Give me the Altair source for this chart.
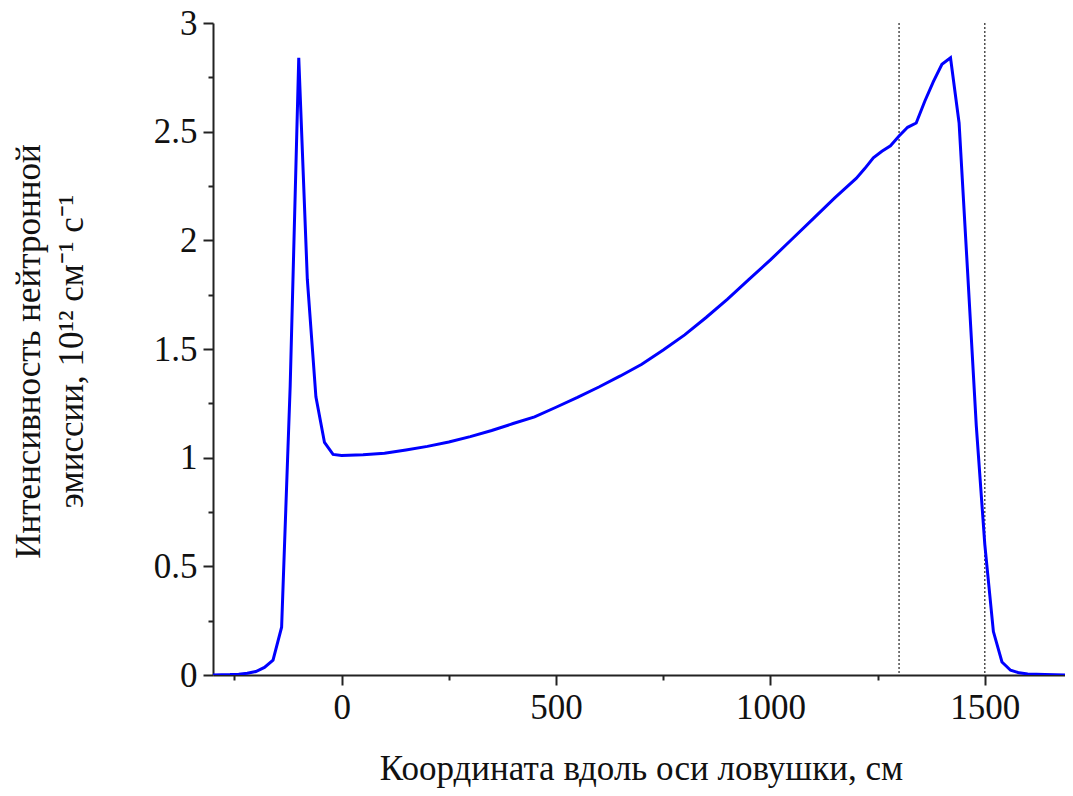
import altair as alt
import pandas as pd

# Coordinate along the trap axis, cm
x_cm = [-300, -280, -260, -240, -220, -200, -180, -160, -140, -120, -100, -80, -60, -40, -20,
        0, 50, 100, 150, 200, 250, 300, 350, 400, 450, 500, 550, 600, 650, 700, 750, 800, 850,
        900, 950, 1000, 1050, 1100, 1150, 1200, 1220, 1240, 1260, 1280, 1300, 1320, 1340, 1360,
        1380, 1400, 1420, 1440, 1460, 1480, 1500, 1520, 1540, 1560, 1580, 1600, 1640, 1700]
# Neutron emission intensity, 10^12 cm^-1 s^-1
intensity = [0.0, 0.001, 0.002, 0.004, 0.008, 0.016, 0.035, 0.068, 0.22, 1.33, 2.84, 1.82, 1.28, 1.07, 1.015,
             1.01, 1.013, 1.02, 1.035, 1.052, 1.072, 1.097, 1.125, 1.157, 1.188, 1.232, 1.277, 1.325, 1.376,
             1.43, 1.495, 1.565, 1.645, 1.73, 1.82, 1.91, 2.005, 2.10, 2.195, 2.285, 2.33, 2.38, 2.41, 2.435,
             2.48, 2.52, 2.54, 2.64, 2.73, 2.81, 2.84, 2.54, 1.85, 1.15, 0.6, 0.2, 0.06, 0.022, 0.01, 0.005,
             0.002, 0.0]
# Vertical dotted markers
marker_x = [1300, 1500]
# Tick values
x_ticks = [-250, 0, 250, 500, 750, 1000, 1250, 1500]
y_ticks = [0, 0.25, 0.5, 0.75, 1, 1.25, 1.5, 1.75, 2, 2.25, 2.5, 2.75, 3]

x_title = "Координата вдоль оси ловушки, см"
y_title = ["Интенсивность нейтронной", "эмиссии, 10¹² см⁻¹ с⁻¹"]

df = pd.DataFrame({"x": x_cm, "y": intensity})
rules = pd.DataFrame({"x": marker_x})

FONT = "'Liberation Serif', 'Times New Roman', Times, serif"
FS = 35
W, H = 852, 652

x_scale = alt.Scale(domain=[-300, 1687], nice=False, zero=False)
y_scale = alt.Scale(domain=[0, 3], nice=False)

x_axis = alt.Axis(
    values=x_ticks,
    labelExpr="datum.value % 500 === 0 ? '' + datum.value : ''",
    tickSize={"condition": {"test": "datum.value % 500 === 0", "value": 10}, "value": 5},
    title=x_title,
    titleX=428,
    titleY=104,
    titleBaseline="alphabetic",
    titleAlign="center",
    labelPadding=5,
)
y_axis = alt.Axis(
    values=y_ticks,
    labelExpr="datum.value % 0.5 === 0 ? '' + datum.value : ''",
    tickSize={"condition": {"test": "datum.value % 0.5 === 0", "value": 10}, "value": 5},
    title=y_title,
    titleAngle=-90,
    titleX=-174,
    titleY=328,
    titleBaseline="alphabetic",
    titleAlign="center",
    titleLineHeight=43,
    labelPadding=6,
)

line = alt.Chart(df).mark_line(color="#0000ff", strokeWidth=3, clip=True).encode(
    x=alt.X("x:Q", scale=x_scale, axis=x_axis),
    y=alt.Y("y:Q", scale=y_scale, axis=y_axis),
)

markers = alt.Chart(rules).mark_rule(color="#222222", strokeWidth=1.2, strokeDash=[2, 2]).encode(
    x=alt.X("x:Q", scale=x_scale)
)

chart = alt.layer(markers, line).properties(
    width=W,
    height=H,
    autosize=alt.AutoSizeParams(type="none"),
    padding={"left": 205, "top": 15, "right": 0, "bottom": 113},
).configure_view(stroke=None).configure_axis(
    grid=False,
    domainColor="#222222",
    domainWidth=2,
    tickColor="#222222",
    tickWidth=2,
    labelFont=FONT,
    labelFontSize=FS,
    labelColor="#111111",
    titleFont=FONT,
    titleFontSize=FS,
    titleFontWeight="normal",
    titleColor="#111111",
)

chart.save("out.html", embed_options={"renderer": "svg", "actions": False})
